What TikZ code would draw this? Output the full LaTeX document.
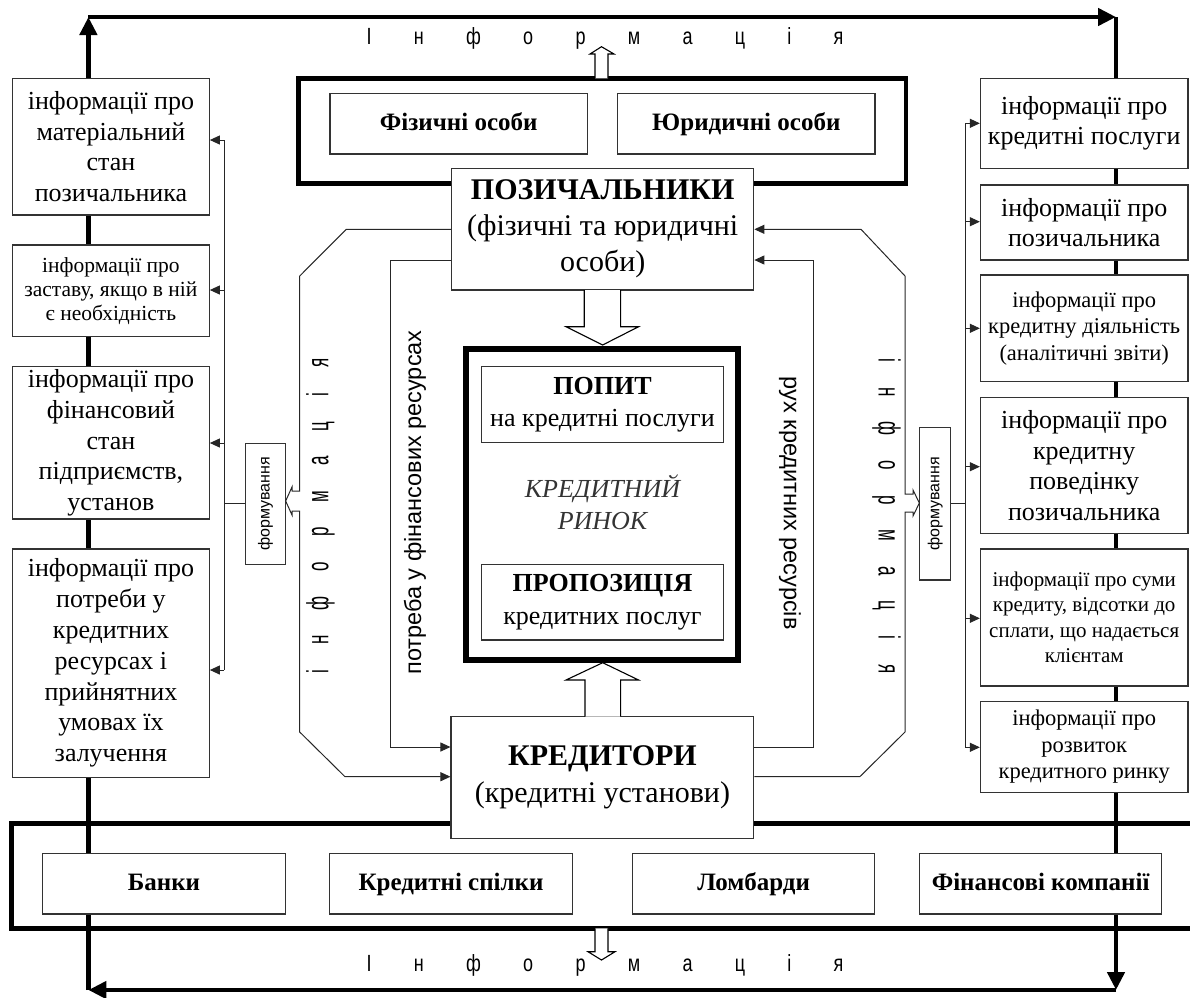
\documentclass[tikz,border=0pt]{standalone}
\usepackage{fontspec}
\setmainfont{Liberation Serif}
\newfontfamily\arialf{Liberation Sans}
\usetikzlibrary{arrows.meta}
\begin{document}
\begin{tikzpicture}[x=1pt,y=-1pt,
  box/.style={draw=black!80,line width=1.1pt,fill=white,inner sep=0pt,align=center},
  conn/.style={draw=black!85,line width=1pt},
  tarr/.style={conn,-{Triangle[length=10pt,width=9pt]}},
  bigarr/.style={line width=4.5pt,-{Triangle[length=18pt,width=17pt]}},
  thickframe/.style={draw,line width=4.5pt,inner sep=0pt},
  hollow/.style={draw=black,line width=1.1pt,fill=white,line join=miter},
  f26/.style={font=\fontsize{26pt}{30.8pt}\selectfont},
  f22/.style={font=\fontsize{22.5pt}{26.6pt}\selectfont},
  f21/.style={font=\fontsize{21pt}{25.5pt}\selectfont},
  fb/.style={font=\fontsize{25pt}{30pt}\selectfont\bfseries,text height=18pt,text depth=5pt},
  spaced/.style={font=\arialf\fontsize{18pt}{18pt}\selectfont,inner sep=0pt},
  rot/.style={font=\arialf\fontsize{23.5pt}{24pt}\selectfont,inner sep=0pt}
]
\useasboundingbox (0,0) rectangle (1190,997);

% outer information loop
\coordinate (tl) at (88.4,17);
\coordinate (tr) at (1116,17);
\coordinate (br) at (1116,990);
\coordinate (bl) at (88.4,990);
\draw[bigarr] (bl) -- (tl);
\draw[bigarr] (tl) -- (tr);
\draw[bigarr] (tr) -- (br);
\draw[bigarr] (br) -- (bl);

% thick frames
\node[thickframe,minimum width=607.5pt,minimum height=105pt] (topframe) at (602.25,130.8) {};
\node[thickframe,minimum width=1188.5pt,minimum height=105pt] (botframe) at (605.75,875.8) {};

% hollow arrows to the information loop
\draw[hollow] (595,78.3) -- (595,54) -- (590,54) -- (601.5,46.7) -- (614,54) -- (608,54) -- (608,78.3);
\draw[hollow] (595,928.3) -- (595,951.7) -- (588,951.7) -- (601.5,960) -- (615,951.7) -- (608,951.7) -- (608,928.3);

\node[spaced,yscale=1.3] (infotop) at (605,38.6) {\spaceskip=42.3pt\relax І н ф о р м а ц і я};
\node[spaced,yscale=1.3] (infobot) at (605,965.5) {\spaceskip=42.3pt\relax І н ф о р м а ц і я};

% top boxes
\node[box,fb,minimum width=257.5pt,minimum height=60.7pt] (fiz) at (458.75,123.65) {Фізичні особи};
\node[box,fb,minimum width=257.4pt,minimum height=60.7pt] (yur) at (746.3,123.65) {Юридичні особи};

% bottom boxes
\node[box,fb,minimum width=242.2pt,minimum height=60.7pt] (bank) at (164,883.65) {Банки};
\node[box,fb,minimum width=242.2pt,minimum height=60.7pt] (spil) at (451,883.65) {Кредитні спілки};
\node[box,fb,minimum width=241.4pt,minimum height=60.7pt] (lomb) at (753.6,883.65) {Ломбарди};
\node[box,fb,minimum width=241.5pt,minimum height=60.7pt] (fink) at (1040.65,883.65) {Фінансові компанії};

% main actors
\node[box,font=\fontsize{30pt}{36pt}\selectfont,minimum width=302.2pt,minimum height=121.7pt] (poz) at (602.7,229.15)
  {\textbf{ПОЗИЧАЛЬНИКИ}\\(фізичні та юридичні\\особи)};
\node[box,font=\fontsize{30pt}{36.7pt}\selectfont,minimum width=302.8pt,minimum height=121.6pt] (kred) at (602.4,777.5)
  {\textbf{КРЕДИТОРИ}\\(кредитні установи)};

% market
\node[draw,line width=6pt,fill=white,minimum width=272pt,minimum height=311.5pt,inner sep=0pt] (mkt) at (602,504.25) {};
\node[box,font=\fontsize{26pt}{31.7pt}\selectfont,minimum width=241.5pt,minimum height=75.6pt] (popyt) at (602.45,404.5)
  {\textbf{ПОПИТ}\\на кредитні послуги};
\node[box,font=\fontsize{26pt}{32.3pt}\selectfont,minimum width=241.5pt,minimum height=75.7pt] (prop) at (602.45,602.15)
  {\textbf{ПРОПОЗИЦІЯ}\\кредитних послуг};
\node[inner sep=0pt,align=center,text=black!80,font=\fontsize{26pt}{31.6pt}\selectfont\itshape] (rynok) at (602.5,502.5) {КРЕДИТНИЙ\\РИНОК};

% hollow arrows to the market
\draw[hollow] (584.2,290) -- (584.2,326.7) -- (566,326.7) -- (602.6,345) -- (638.6,326.7) -- (620.6,326.7) -- (620.6,290);
\draw[hollow] (585,716.7) -- (585,680) -- (566,680) -- (602.7,662.7) -- (638.6,680) -- (620.6,680) -- (620.6,716.7);

% left information boxes
\node[box,f26,minimum width=196.7pt,minimum height=136.7pt] (L1) at (110.95,146.65) {інформації про\\матеріальний\\стан\\позичальника};
\node[box,font=\fontsize{21.5pt}{24.2pt}\selectfont,minimum width=196.7pt,minimum height=91.7pt] (L2) at (110.95,290.85) {інформації про\\заставу, якщо в ній\\є необхідність};
\node[box,f26,minimum width=196.7pt,minimum height=152.3pt] (L3) at (110.95,442.85) {інформації про\\фінансовий\\стан\\підприємств,\\установ};
\node[box,f26,minimum width=196.7pt,minimum height=228.3pt] (L4) at (110.95,663.15) {інформації про\\потреби у\\кредитних\\ресурсах і\\прийнятних\\умовах їх\\залучення};

% right information boxes
\node[box,f26,minimum width=207.6pt,minimum height=90pt] (R1) at (1084.2,123.3) {інформації про\\кредитні послуги};
\node[box,f26,minimum width=207.6pt,minimum height=75pt] (R2) at (1084.2,222.5) {інформації про\\позичальника};
\node[box,f22,minimum width=207.6pt,minimum height=106.7pt] (R3) at (1084.2,328.35) {інформації про\\кредитну діяльність\\(аналітичні звіти)};
\node[box,f26,minimum width=207.6pt,minimum height=135.6pt] (R4) at (1084.2,465.5) {інформації про\\кредитну\\поведінку\\позичальника};
\node[box,f21,minimum width=207.6pt,minimum height=137pt] (R5) at (1084.2,617.5) {інформації про суми\\кредиту, відсотки до\\сплати, що надається\\клієнтам};
\node[box,f22,minimum width=207.6pt,minimum height=90.6pt] (R6) at (1084.2,747) {інформації про\\розвиток\\кредитного ринку};

% formation boxes
\node[box,minimum width=39.4pt,minimum height=121pt] (FL) at (265.4,503.8) {};
\node[rotate=90,inner sep=0pt,font=\arialf\fontsize{16pt}{16pt}\selectfont] (FLt) at (FL) {формування};
\node[box,minimum width=30.6pt,minimum height=152.3pt] (FR) at (935.2,503.85) {};
\node[rotate=90,inner sep=0pt,font=\arialf\fontsize{16pt}{16pt}\selectfont] (FRt) at (FR) {формування};

% left distribution trunk
\coordinate (lt1) at (224,140);
\coordinate (lt2) at (224,290);
\coordinate (lt3) at (224,443);
\coordinate (lt4) at (224,670);
\coordinate (ltf) at (224,503.3);
\draw[conn] (lt1) -- (lt4);
\draw[conn] (FL.west |- ltf) -- (ltf);
\draw[tarr] (lt1) -- (lt1 -| L1.east);
\draw[tarr] (lt2) -- (lt2 -| L2.east);
\draw[tarr] (lt3) -- (lt3 -| L3.east);
\draw[tarr] (lt4) -- (lt4 -| L4.east);

% right distribution trunk
\coordinate (rt1) at (965,123.3);
\coordinate (rt2) at (965,221.7);
\coordinate (rt3) at (965,328.3);
\coordinate (rt4) at (965,466.7);
\coordinate (rt5) at (965,618.3);
\coordinate (rt6) at (965,747.3);
\coordinate (rtf) at (965,503.3);
\draw[conn] (rt1) -- (rt6);
\draw[conn] (FR.east |- rtf) -- (rtf);
\draw[tarr] (rt1) -- (rt1 -| R1.west);
\draw[tarr] (rt2) -- (rt2 -| R2.west);
\draw[tarr] (rt3) -- (rt3 -| R3.west);
\draw[tarr] (rt4) -- (rt4 -| R4.west);
\draw[tarr] (rt5) -- (rt5 -| R5.west);
\draw[tarr] (rt6) -- (rt6 -| R6.west);

% octagon information paths
\coordinate (po1) at (451.6,229.3);
\coordinate (po2) at (451.6,260);
\coordinate (ko1) at (451,747);
\coordinate (ko2) at (451,776.7);
\draw[tarr] (po1 -| poz.west) -- (346.3,229.3) -- (299.7,276) -- (299.7,491) -- (292,491) -- (292,487) -- (FL.east |- 0,501) -- (292,515) -- (292,511) -- (299.7,511) -- (299.7,732) -- (345,776.7) -- (ko2 -| kred.west);
\draw[tarr] (po2 -| poz.west) -- (390.4,260) -- (390.4,747) -- (ko1 -| kred.west);
\draw[tarr] (ko1 -| kred.east) -- (813.9,747) -- (813.9,260) -- (po2 -| poz.east);
\draw[tarr] (ko2 -| kred.east) -- (859.8,776.7) -- (905,732) -- (905,512) -- (913,512) -- (913,516) -- (FR.west |- 0,503) -- (913,490) -- (913,494) -- (905,494) -- (905,276) -- (861,229.3) -- (po1 -| poz.east);

% rotated labels
\node[rot,rotate=90] (needtxt) at (415,502.5) {потреба у фінансових ресурсах};
\node[rot,rotate=-90] (flowtxt) at (790,503.3) {рух кредитних ресурсів};
\node[font=\arialf\fontsize{17pt}{17pt}\selectfont,inner sep=0pt,rotate=90,yscale=1.8] (infol) at (320.5,516) {\spaceskip=25pt\relax і н ф о р м а ц і я};
\node[font=\arialf\fontsize{17pt}{17pt}\selectfont,inner sep=0pt,rotate=-90,yscale=1.8] (infor) at (886.5,516) {\spaceskip=25pt\relax і н ф о р м а ц і я};
\end{tikzpicture}
\end{document}
